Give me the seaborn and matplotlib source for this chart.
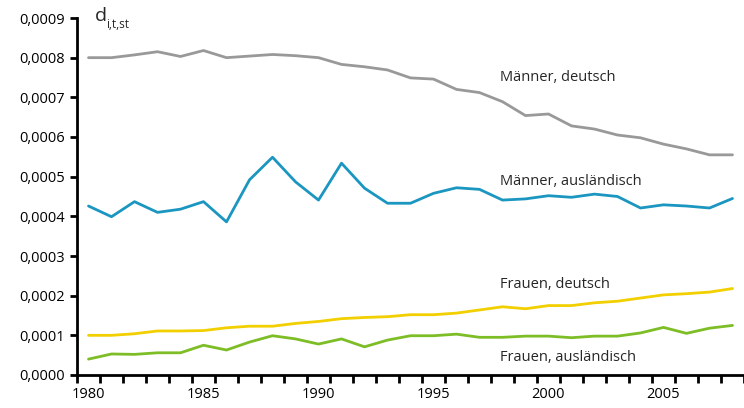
import numpy as np
import pandas as pd
import seaborn as sns
import matplotlib.pyplot as plt
from matplotlib.ticker import FixedLocator, FuncFormatter

# ---------- DATA
years = list(range(1980, 2009))

maenner_deutsch = [0.000800, 0.000800, 0.000807, 0.000815, 0.000803, 0.000818, 0.000800,
                   0.000804, 0.000808, 0.000805, 0.000800, 0.000783, 0.000777, 0.000769,
                   0.000749, 0.000746, 0.000720, 0.000712, 0.000689, 0.000654, 0.000658,
                   0.000628, 0.000620, 0.000605, 0.000598, 0.000582, 0.000570, 0.000555,
                   0.000555]
maenner_ausl = [0.000426, 0.000399, 0.000437, 0.000410, 0.000418, 0.000437, 0.000386,
                0.000492, 0.000549, 0.000487, 0.000441, 0.000534, 0.000471, 0.000433,
                0.000433, 0.000458, 0.000472, 0.000468, 0.000441, 0.000444, 0.000452,
                0.000448, 0.000456, 0.000450, 0.000421, 0.000429, 0.000426, 0.000421,
                0.000445]
frauen_deutsch = [0.000100, 0.000100, 0.000104, 0.000111, 0.000111, 0.000112, 0.000119,
                  0.000123, 0.000123, 0.000130, 0.000135, 0.000142, 0.000145, 0.000147,
                  0.000152, 0.000152, 0.000156, 0.000164, 0.000172, 0.000167, 0.000175,
                  0.000175, 0.000182, 0.000186, 0.000194, 0.000202, 0.000205, 0.000209,
                  0.000218]
frauen_ausl = [0.000040, 0.000053, 0.000052, 0.000056, 0.000056, 0.000075, 0.000063,
               0.000083, 0.000099, 0.000091, 0.000078, 0.000091, 0.000071, 0.000088,
               0.000099, 0.000099, 0.000103, 0.000095, 0.000095, 0.000098, 0.000098,
               0.000094, 0.000098, 0.000098, 0.000106, 0.000120, 0.000105, 0.000118,
               0.000125]

series_names = ["Männer, deutsch", "Männer, ausländisch", "Frauen, deutsch", "Frauen, ausländisch"]
series_values = [maenner_deutsch, maenner_ausl, frauen_deutsch, frauen_ausl]
y_ticks = [i / 10000 for i in range(10)]
x_labels = [1980, 1985, 1990, 1995, 2000, 2005]

# ---------- RESHAPE
df = pd.concat([pd.DataFrame({"year": years, "value": v, "series": n})
                for n, v in zip(series_names, series_values)])

palette = {"Männer, deutsch": "#999999",
           "Männer, ausländisch": "#1a96c0",
           "Frauen, deutsch": "#f2d000",
           "Frauen, ausländisch": "#7dbd25"}

# ---------- PLOTTING
sns.set_theme(style="ticks")
plt.rcParams['font.family'] = ['Open Sans', 'DejaVu Sans']

fig = plt.figure(figsize=(7.44, 4.08), dpi=100)
ax = fig.add_axes([77 / 744, 33 / 408, 667 / 744, 357 / 408])

sns.lineplot(data=df, x="year", y="value", hue="series", palette=palette,
             linewidth=2.0, legend=False, ax=ax)

ax.set_xlim(1979.5, 2008.5)
ax.set_ylim(0, 0.0009)
ax.set_xlabel("")
ax.set_ylabel("")

# x axis: labels at years, tick marks between categories
ax.xaxis.set_major_locator(FixedLocator(x_labels))
ax.xaxis.set_minor_locator(FixedLocator([y + 0.5 for y in range(1979, 2009)]))
ax.tick_params(axis="x", which="major", length=0, pad=9, labelsize=10.5, colors="black")
ax.tick_params(axis="x", which="minor", length=6, width=2, direction="out", color="black")

ax.yaxis.set_major_locator(FixedLocator(y_ticks))
ax.yaxis.set_major_formatter(FuncFormatter(lambda v, p: f"{v:.4f}".replace(".", ",")))
ax.tick_params(axis="y", length=5, width=2, direction="out", pad=4, labelsize=10.5, colors="black")

for side in ["left", "bottom"]:
    ax.spines[side].set_linewidth(2)
    ax.spines[side].set_color("black")
sns.despine(ax=ax)

# axis caption d_{i,t,st}
fig.text(95 / 744, 1 - 21 / 408, "d", fontsize=14, ha="left", va="baseline")
fig.text(106 / 744, 1 - 28 / 408, "i,t,st", fontsize=8.5, ha="left", va="baseline")

# series labels
label_x = 1997.9
ax.text(label_x, 0.00075, "Männer, deutsch", fontsize=10.5, va="center")
ax.text(label_x, 0.000487, "Männer, ausländisch", fontsize=10.5, va="center")
ax.text(label_x, 0.000227, "Frauen, deutsch", fontsize=10.5, va="center")
ax.text(label_x, 0.000045, "Frauen, ausländisch", fontsize=10.5, va="center")

plt.savefig("out.png", dpi=100)
